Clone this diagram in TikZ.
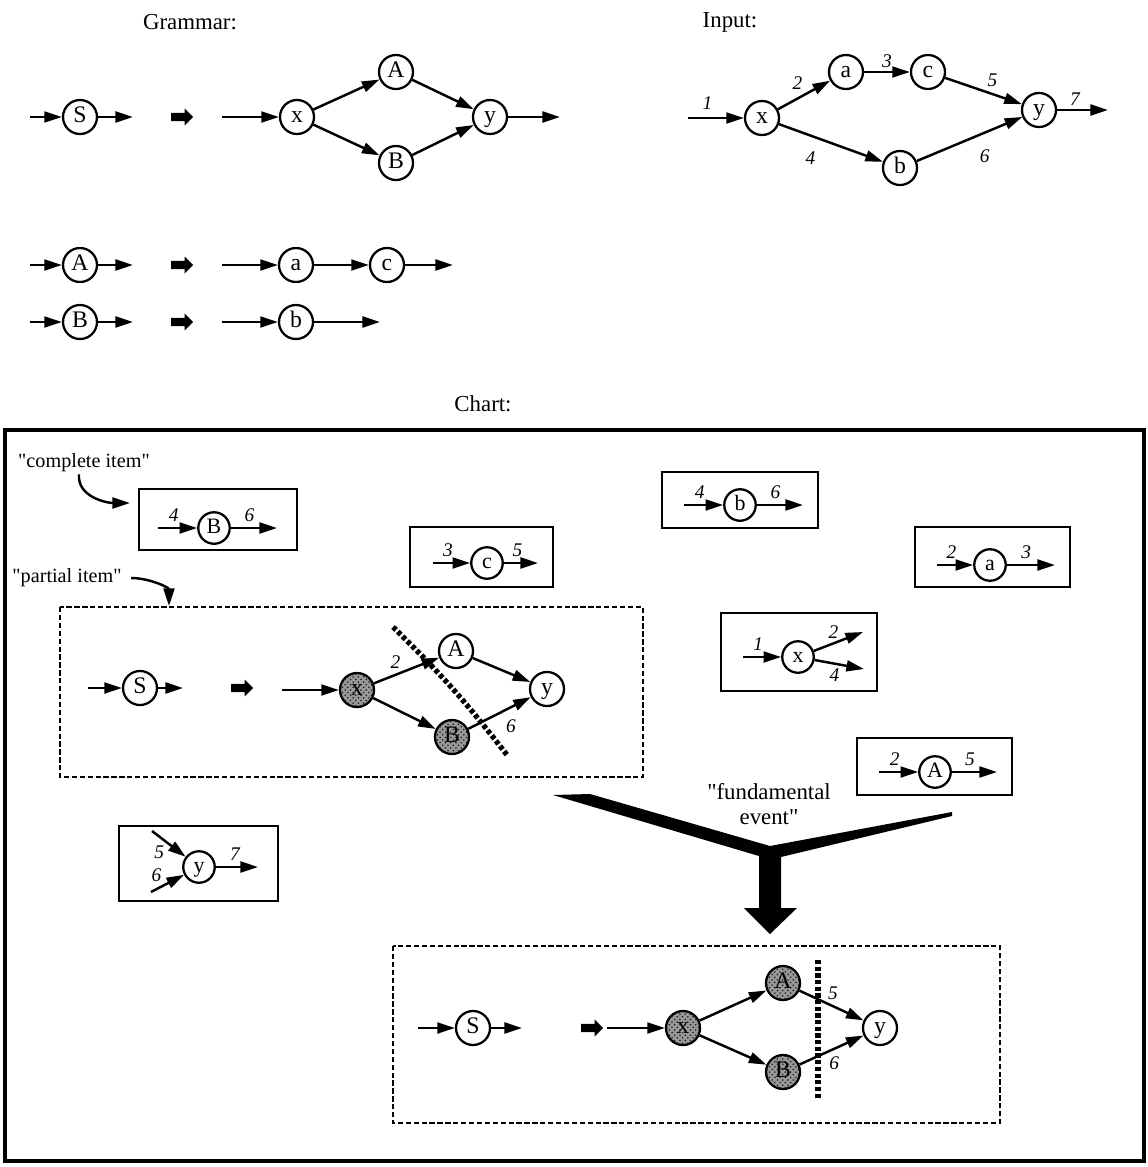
\documentclass[tikz,border=0pt]{standalone}
\usepackage{fontspec}
\setmainfont{Liberation Serif}[Ligatures=TeXOff]
\usetikzlibrary{positioning, arrows.meta, shapes.arrows, patterns}
\tikzset{
    sym/.style={circle, draw, line width=1.3pt, minimum size=0.68cm, inner sep=0pt, text height=0.62em, text depth=0pt, font=\fontsize{13.5}{13.5}\selectfont},
    item sym/.style={sym, minimum size=0.63cm, font=\fontsize{12.5}{12.5}\selectfont},
    found/.style={fill=black!40, postaction={pattern=crosshatch dots, pattern color=black!90}},
    flow/.style={-{Triangle[length=10pt, width=6.2pt]}, line width=1.4pt},
    num/.style={font=\fontsize{11}{11}\selectfont\itshape, inner sep=1pt},
    heading/.style={font=\fontsize{13}{14}\selectfont, align=center},
    note/.style={font=\fontsize{11.5}{12}\selectfont, inner sep=1pt},
    rewrite/.style={single arrow, fill=black, inner sep=2.2pt, minimum height=12.5pt, single arrow head extend=2.4pt, single arrow head indent=0pt},
    item box/.style={draw, line width=1.4pt},
    dotted box/.style={draw, line width=1.5pt, dash pattern=on 3pt off 1.5pt},
    cut/.style={line width=3pt, dash pattern=on 2.4pt off 1.4pt},
}
\begin{document}
\begin{tikzpicture}[x=0.02cm, y=-0.02cm]
\useasboundingbox (0,0) rectangle (1148,1167);

% ---- grammar ----
\node[heading] (tGrammar) at (190,22) {Grammar:};
\node[sym] (gS) at (80,117) {S};
\node[rewrite] (gR1) at (180,117) {};
\node[sym] (gx) at (297,117) {x};
\node[sym] (gA) at (396,72) {A};
\node[sym] (gB) at (396,163) {B};
\node[sym] (gy) at (490,117) {y};
\coordinate (gSi) at (30,117);
\coordinate (gSo) at (133,117);
\coordinate (gxi) at (222,117);
\coordinate (gyo) at (560,117);
\draw[flow] (gSi) -- (gS);
\draw[flow] (gS) -- (gSo);
\draw[flow] (gxi) -- (gx);
\draw[flow] (gx) -- (gA);
\draw[flow] (gx) -- (gB);
\draw[flow] (gA) -- (gy);
\draw[flow] (gB) -- (gy);
\draw[flow] (gy) -- (gyo);

\node[sym] (gA2) at (80,265) {A};
\node[rewrite] (gR2) at (180,265) {};
\node[sym] (ga) at (296,265) {a};
\node[sym] (gc) at (387,265) {c};
\coordinate (gA2i) at (30,265);
\coordinate (gA2o) at (133,265);
\coordinate (gai) at (222,265);
\coordinate (gco) at (453,265);
\draw[flow] (gA2i) -- (gA2);
\draw[flow] (gA2) -- (gA2o);
\draw[flow] (gai) -- (ga);
\draw[flow] (ga) -- (gc);
\draw[flow] (gc) -- (gco);

\node[sym] (gB2) at (80,322) {B};
\node[rewrite] (gR3) at (180,322) {};
\node[sym] (gb) at (296,322) {b};
\coordinate (gB2i) at (30,322);
\coordinate (gB2o) at (133,322);
\coordinate (gbi) at (222,322);
\coordinate (gbo) at (380,322);
\draw[flow] (gB2i) -- (gB2);
\draw[flow] (gB2) -- (gB2o);
\draw[flow] (gbi) -- (gb);
\draw[flow] (gb) -- (gbo);

% ---- input ----
\node[heading] (tInput) at (730,22) {Input:};
\node[sym] (ix) at (762,118) {x};
\node[sym] (ia) at (846,72) {a};
\node[sym] (ic) at (928,72) {c};
\node[sym] (ib) at (900,168) {b};
\node[sym] (iy) at (1039,110) {y};
\coordinate (ixi) at (688,118);
\coordinate (iyo) at (1108,110);
\draw[flow] (ixi) -- (ix) node[num, above=3pt, pos=0.35] {1};
\draw[flow] (ix) -- (ia) node[num, above left=1pt, pos=0.55] {2};
\draw[flow] (ia) -- (ic) node[num, above=1pt, pos=0.5] {3};
\draw[flow] (ic) -- (iy) node[num, above right=1pt, pos=0.5] {5};
\draw[flow] (ix) -- (ib) node[num, below left=6pt, pos=0.45] {4};
\draw[flow] (ib) -- (iy) node[num, below right=6pt, pos=0.5] {6};
\draw[flow] (iy) -- (iyo) node[num, above=1pt, pos=0.35] {7};

% ---- chart ----
\node[heading] (tChart) at (483,404) {Chart:};
\draw[line width=1.9pt] (5,430) rectangle (1144,1161);

% complete item
\node[note] (tComplete) at (84,463) {"complete item"};
\coordinate (ciTip) at (130,503);
\draw[flow] ([xshift=-0.1cm]tComplete.south) to[out=-95, in=180] (ciTip);
\draw[item box] (139,489) rectangle (297,550);
\node[item sym] (cB) at (214,528) {B};
\coordinate (cBi) at (158,528);
\coordinate (cBo) at (277,528);
\draw[flow] (cBi) -- (cB) node[num, above=2pt, pos=0.4] {4};
\draw[flow] (cB) -- (cBo) node[num, above=2pt, pos=0.4] {6};

% item c
\draw[item box] (410,527) rectangle (553,587);
\node[item sym] (cc) at (487,563) {c};
\coordinate (cci) at (433,563);
\coordinate (cco) at (538,563);
\draw[flow] (cci) -- (cc) node[num, above=2pt, pos=0.4] {3};
\draw[flow] (cc) -- (cco) node[num, above=2pt, pos=0.4] {5};

% item b
\draw[item box] (662,472) rectangle (818,528);
\node[item sym] (cb) at (740,505) {b};
\coordinate (cbi) at (684,505);
\coordinate (cbo) at (803,505);
\draw[flow] (cbi) -- (cb) node[num, above=2pt, pos=0.4] {4};
\draw[flow] (cb) -- (cbo) node[num, above=2pt, pos=0.4] {6};

% item a
\draw[item box] (915,527) rectangle (1070,587);
\node[item sym] (ca) at (990,565) {a};
\coordinate (cai) at (937,565);
\coordinate (cao) at (1055,565);
\draw[flow] (cai) -- (ca) node[num, above=2pt, pos=0.4] {2};
\draw[flow] (ca) -- (cao) node[num, above=2pt, pos=0.4] {3};

% item x
\draw[item box] (721,613) rectangle (877,691);
\node[item sym] (cx) at (798,657) {x};
\coordinate (cxi) at (743,657);
\coordinate (cxo1) at (863,632);
\coordinate (cxo2) at (864,669);
\draw[flow] (cxi) -- (cx) node[num, above=2pt, pos=0.4] {1};
\draw[flow] (cx) -- (cxo1) node[num, above=1pt, pos=0.4] {2};
\draw[flow] (cx) -- (cxo2) node[num, below=1pt, pos=0.4] {4};

% item A
\draw[item box] (857,738) rectangle (1012,795);
\node[item sym] (cA) at (935,772) {A};
\coordinate (cAi) at (879,772);
\coordinate (cAo) at (997,772);
\draw[flow] (cAi) -- (cA) node[num, above=2pt, pos=0.4] {2};
\draw[flow] (cA) -- (cAo) node[num, above=2pt, pos=0.4] {5};

% item y
\draw[item box] (119,826) rectangle (278,901);
\node[item sym] (cy) at (199,867) {y};
\coordinate (cyi1) at (152,831);
\coordinate (cyi2) at (151,892);
\coordinate (cyo) at (258,867);
\draw[flow] (cyi1) -- (cy) node[num, below left=0pt, pos=0.45] {5};
\draw[flow] (cyi2) -- (cy) node[num, above left=0pt, pos=0.4] {6};
\draw[flow] (cy) -- (cyo) node[num, above=2pt, pos=0.45] {7};

% partial item
\node[note] (tPartial) at (67,578) {"partial item"};
\coordinate (piTip) at (169,606);
\draw[flow] ([xshift=0.15cm]tPartial.east) to[out=0, in=90] (piTip);
\draw[dotted box] (60,607) rectangle (643,777);
\node[sym] (pS) at (140,688) {S};
\node[rewrite] (pR) at (240,688) {};
\node[sym, found] (px) at (357,690) {x};
\node[sym] (pA) at (456,651) {A};
\node[sym, found] (pB) at (452,737) {B};
\node[sym] (py) at (547,689) {y};
\coordinate (pSi) at (88,688);
\coordinate (pSo) at (183,688);
\coordinate (pxi) at (282,690);
\coordinate (pyo) at (618,688);
\draw[flow] (pSi) -- (pS);
\draw[flow] (pS) -- (pSo);
\draw[flow] (pxi) -- (px);
\draw[flow] (px) -- (pA) node[num, above left=0pt, pos=0.45] {2};
\draw[flow] (px) -- (pB);
\draw[flow] (pA) -- (py);
\draw[flow] (pB) -- (py) node[num, below right=3pt, pos=0.5] {6};
\coordinate (pCut1) at (393,627);
\coordinate (pCut2) at (507,755);
\draw[cut] (pCut1) to[bend left=4] (pCut2);

% fundamental event
\node[heading] (tFund) at (769,804) {"fundamental\\event"};
\fill (553,795) -- (590,794) -- (770,846) -- (952,812) -- (952,816) -- (781,857)
  -- (781,908) -- (797,908) -- (770,934) -- (744,908) -- (759,908) -- (759,856) -- cycle;

% new item
\draw[dotted box] (393,946) rectangle (1000,1123);
\node[sym] (nS) at (473,1028) {S};
\node[rewrite] (nR) at (590,1028) {};
\node[sym, found] (nx) at (683,1028) {x};
\node[sym, found] (nA) at (783,983) {A};
\node[sym, found] (nB) at (783,1072) {B};
\node[sym] (ny) at (880,1028) {y};
\coordinate (nSi) at (418,1028);
\coordinate (nSo) at (522,1028);
\coordinate (nxi) at (607,1028);
\coordinate (nyo) at (944,1028);
\draw[flow] (nSi) -- (nS);
\draw[flow] (nS) -- (nSo);
\draw[flow] (nxi) -- (nx);
\draw[flow] (nx) -- (nA);
\draw[flow] (nx) -- (nB);
\draw[flow] (nA) -- (ny) node[num, above right=0pt, pos=0.4] {5};
\draw[flow] (nB) -- (ny) node[num, below right=1pt, pos=0.4] {6};
\coordinate (nCut1) at (818,960);
\coordinate (nCut2) at (818,1098);
\draw[cut] (nCut1) -- (nCut2);
\end{tikzpicture}
\end{document}
